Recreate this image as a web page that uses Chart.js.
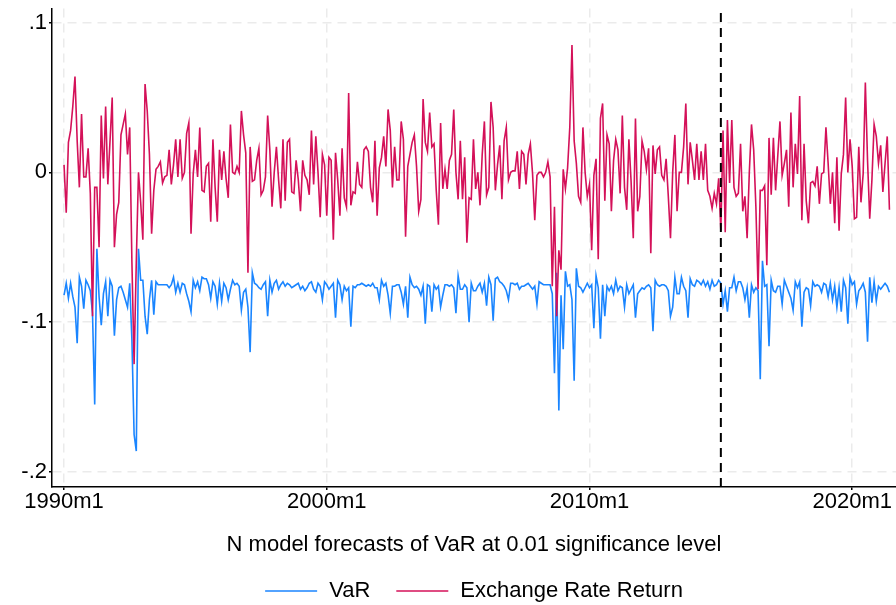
<!DOCTYPE html>
<html>
<head>
<meta charset="utf-8">
<script src="https://cdn.jsdelivr.net/npm/chart.js@4.4.1/dist/chart.umd.min.js"></script>
<style>
  body { margin: 0; background: #fff; }
  canvas { display: block; }
</style>
</head>
<body>
<canvas id="var_chart" width="896" height="605"></canvas>
<script>
// monthly series, first observation 1990m1
var startYear = 1990;
var tickYears = [1990, 2000, 2010, 2020];
var yTicks = [0.1, 0, -0.1, -0.2];
var forecastStart = '2015m1';
var xTitle = 'N model forecasts of VaR at 0.01 significance level';

var exchangeReturn = [
  0.005, -0.027, 0.020, 0.028, 0.044, 0.064, 0.021, -0.010, 0.039, -0.003, -0.003, 0.016, // 1990
  -0.014, -0.096, -0.010, -0.010, -0.050, 0.038, -0.004, 0.044, -0.008, 0.021, 0.050, -0.050,
  -0.028, -0.020, 0.025, 0.032, 0.039, 0.012, 0.030, -0.060, -0.128, -0.060, 0.000, -0.020,
  -0.045, 0.059, 0.041, 0.012, -0.041, -0.012, 0.002, 0.004, 0.007, -0.007, -0.003, -0.002,
  0.015, -0.008, 0.005, 0.022, -0.003, 0.022, -0.004, 0.000, 0.026, 0.033, -0.041, -0.001,
  0.015, -0.003, 0.030, -0.012, -0.013, 0.004, 0.006, -0.033, 0.022, -0.010, -0.033, 0.015, // 1995
  -0.005, 0.014, -0.004, -0.017, 0.032, 0.000, -0.001, 0.004, 0.000, 0.041, 0.025, 0.013,
  -0.067, 0.017, -0.006, -0.005, 0.008, 0.016, -0.015, -0.012, -0.003, 0.038, 0.015, -0.023,
  0.000, 0.017, -0.005, -0.024, 0.022, -0.019, 0.020, 0.022, -0.013, -0.014, 0.008, -0.005,
  -0.026, 0.008, -0.002, -0.005, -0.015, 0.028, -0.008, 0.024, 0.000, -0.030, 0.012, 0.005,
  -0.029, 0.010, 0.008, -0.045, 0.013, -0.005, -0.029, 0.016, -0.017, -0.023, 0.053, -0.022, // 2000
  -0.013, -0.014, 0.007, -0.008, -0.010, 0.015, 0.017, 0.014, -0.010, -0.020, 0.021, -0.029,
  0.003, 0.010, 0.024, 0.004, 0.042, 0.028, -0.010, 0.017, -0.005, -0.005, 0.034, 0.022,
  -0.043, 0.004, 0.012, 0.020, 0.025, 0.004, -0.026, -0.018, 0.049, 0.020, 0.014, 0.040,
  0.017, 0.019, -0.012, -0.035, 0.033, -0.011, 0.002, -0.011, 0.008, 0.012, 0.042, 0.000,
  -0.018, 0.021, -0.018, 0.010, -0.047, -0.017, -0.018, 0.022, -0.011, 0.000, -0.022, 0.012, // 2005
  0.034, -0.015, -0.010, 0.047, 0.030, -0.012, 0.005, 0.018, -0.018, 0.021, 0.030, -0.005,
  0.000, 0.001, 0.001, 0.014, -0.011, 0.014, 0.012, -0.008, 0.012, 0.019, -0.001, -0.032,
  -0.002, 0.000, 0.000, -0.003, 0.000, 0.007, -0.003, -0.076, -0.023, -0.096, -0.052, -0.065,
  0.002, -0.011, 0.003, 0.030, 0.085, 0.021, 0.006, -0.016, -0.020, 0.030, 0.000, -0.016,
  -0.008, -0.052, -0.002, 0.009, -0.058, 0.036, 0.046, -0.019, 0.025, 0.019, -0.026, 0.008, // 2010
  0.022, 0.015, -0.014, 0.038, -0.010, -0.025, 0.022, -0.006, -0.044, 0.036, -0.026, -0.016,
  0.021, 0.014, 0.002, 0.016, -0.054, 0.018, -0.001, 0.015, 0.017, -0.002, -0.005, 0.009,
  -0.016, -0.044, 0.000, 0.025, -0.026, 0.000, 0.000, 0.017, 0.046, -0.008, 0.020, 0.008,
  -0.005, 0.019, -0.005, 0.014, -0.005, 0.019, -0.012, -0.016, -0.024, -0.014, -0.021, -0.004,
  -0.039, 0.028, -0.040, 0.035, -0.007, 0.035, -0.010, -0.016, -0.014, 0.019, -0.026, -0.016, // 2015
  -0.044, 0.000, 0.032, 0.015, -0.023, -0.078, -0.012, -0.012, -0.009, -0.062, 0.023, -0.015,
  0.023, -0.012, 0.011, 0.034, -0.002, 0.006, 0.015, -0.023, 0.040, -0.010, 0.019, -0.001,
  0.051, -0.032, 0.019, -0.019, -0.034, -0.007, -0.006, -0.009, 0.004, -0.021, -0.001, 0.000,
  0.030, 0.006, -0.021, 0.000, -0.034, 0.010, -0.039, -0.001, 0.012, 0.050, 0.000, 0.022,
  0.004, -0.031, -0.030, 0.017, -0.020, -0.001, 0.060, 0.008, -0.031, -0.005, 0.032, 0.024, // 2020
  0.006, 0.018, -0.013, 0.006, 0.024, -0.025
];

var valueAtRisk = [
  -0.082, -0.074, -0.084, -0.074, -0.083, -0.090, -0.114, -0.070, -0.076, -0.091, -0.072, -0.075, // 1990
  -0.079, -0.094, -0.155, -0.051, -0.083, -0.102, -0.081, -0.073, -0.096, -0.072, -0.076, -0.109,
  -0.085, -0.077, -0.076, -0.080, -0.085, -0.090, -0.074, -0.112, -0.175, -0.186, -0.051, -0.072,
  -0.072, -0.096, -0.108, -0.085, -0.072, -0.095, -0.073, -0.075, -0.075, -0.075, -0.075, -0.075,
  -0.077, -0.075, -0.070, -0.080, -0.074, -0.080, -0.074, -0.075, -0.081, -0.086, -0.093, -0.072,
  -0.077, -0.073, -0.079, -0.070, -0.071, -0.071, -0.075, -0.084, -0.073, -0.076, -0.088, -0.074, // 1995
  -0.086, -0.074, -0.077, -0.085, -0.078, -0.072, -0.075, -0.074, -0.076, -0.092, -0.080, -0.078,
  -0.090, -0.120, -0.067, -0.074, -0.075, -0.077, -0.078, -0.075, -0.073, -0.096, -0.072, -0.080,
  -0.074, -0.072, -0.078, -0.075, -0.073, -0.076, -0.074, -0.075, -0.077, -0.076, -0.075, -0.074,
  -0.078, -0.076, -0.079, -0.077, -0.074, -0.073, -0.078, -0.080, -0.074, -0.076, -0.085, -0.073,
  -0.075, -0.078, -0.076, -0.074, -0.097, -0.072, -0.075, -0.085, -0.076, -0.079, -0.077, -0.103, // 2000
  -0.076, -0.077, -0.075, -0.075, -0.074, -0.075, -0.076, -0.075, -0.076, -0.074, -0.077, -0.077,
  -0.085, -0.072, -0.076, -0.074, -0.082, -0.094, -0.076, -0.076, -0.075, -0.075, -0.080, -0.088,
  -0.076, -0.097, -0.070, -0.075, -0.077, -0.076, -0.078, -0.082, -0.076, -0.101, -0.075, -0.076,
  -0.093, -0.075, -0.078, -0.076, -0.090, -0.082, -0.075, -0.075, -0.076, -0.075, -0.077, -0.094,
  -0.069, -0.078, -0.078, -0.075, -0.077, -0.100, -0.074, -0.079, -0.079, -0.076, -0.074, -0.080, // 2005
  -0.074, -0.089, -0.070, -0.075, -0.099, -0.071, -0.070, -0.073, -0.074, -0.076, -0.079, -0.085,
  -0.074, -0.074, -0.075, -0.074, -0.078, -0.076, -0.076, -0.075, -0.074, -0.076, -0.078, -0.076,
  -0.088, -0.073, -0.074, -0.075, -0.075, -0.075, -0.075, -0.081, -0.134, -0.067, -0.159, -0.082,
  -0.118, -0.066, -0.076, -0.075, -0.085, -0.139, -0.064, -0.076, -0.077, -0.080, -0.077, -0.074,
  -0.077, -0.075, -0.104, -0.069, -0.077, -0.111, -0.075, -0.096, -0.076, -0.079, -0.076, -0.081, // 2010
  -0.072, -0.079, -0.076, -0.077, -0.090, -0.075, -0.081, -0.078, -0.075, -0.097, -0.081, -0.079,
  -0.077, -0.078, -0.076, -0.075, -0.077, -0.106, -0.072, -0.075, -0.076, -0.075, -0.075, -0.076,
  -0.079, -0.096, -0.090, -0.070, -0.081, -0.081, -0.070, -0.076, -0.079, -0.097, -0.071, -0.075,
  -0.076, -0.072, -0.073, -0.075, -0.072, -0.076, -0.073, -0.078, -0.072, -0.076, -0.075, -0.072,
  -0.074, -0.088, -0.079, -0.093, -0.077, -0.077, -0.070, -0.079, -0.073, -0.073, -0.077, -0.085, // 2015
  -0.077, -0.097, -0.075, -0.080, -0.077, -0.079, -0.138, -0.059, -0.076, -0.075, -0.116, -0.072,
  -0.079, -0.080, -0.076, -0.076, -0.088, -0.072, -0.076, -0.080, -0.084, -0.092, -0.073, -0.077,
  -0.073, -0.103, -0.080, -0.077, -0.078, -0.089, -0.073, -0.076, -0.075, -0.076, -0.080, -0.074,
  -0.075, -0.083, -0.074, -0.085, -0.076, -0.090, -0.077, -0.093, -0.072, -0.077, -0.101, -0.070,
  -0.075, -0.073, -0.088, -0.079, -0.077, -0.074, -0.080, -0.113, -0.070, -0.087, -0.073, -0.086, // 2020
  -0.076, -0.078, -0.076, -0.074, -0.076, -0.080
];

var blue = '#1A85FF', red = '#D41159';
var fontFamily = '"Liberation Sans", Arial, Helvetica, sans-serif';
var yMin = -0.21, yMax = 0.1093;

// "2015m1" -> months since startYear m1
function monthIndex(s) {
    var parts = s.split('m');
    return (parseInt(parts[0]) - startYear) * 12 + parseInt(parts[1]) - 1;
}

function toPoints(series) {
    return series.map(function (v, i) { return {x: i, y: v}; });
}

function yLabel(v) {
    if (v === 0) return '0';
    return (v < 0 ? '-' : '') + String(Math.abs(v)).replace(/^0/, '');
}

// x axis title and the legend row underneath the plot
var bottomText = {
    id: 'bottomText',
    afterDraw: function (chart) {
        var ctx = chart.ctx, area = chart.chartArea;
        var cx = (area.left + area.right) / 2;
        ctx.save();
        ctx.font = '22px ' + fontFamily;
        ctx.fillStyle = '#000';
        ctx.textBaseline = 'middle';
        ctx.textAlign = 'center';
        ctx.fillText(xTitle, cx, 545);

        var items = [
            {label: chart.data.datasets[1].label, color: chart.data.datasets[1].borderColor},
            {label: chart.data.datasets[0].label, color: chart.data.datasets[0].borderColor}
        ];
        var lineLen = 52, gap = 12, itemGap = 26, total = 0;
        items.forEach(function (it, k) {
            it.w = ctx.measureText(it.label).width;
            total += lineLen + gap + it.w + (k > 0 ? itemGap : 0);
        });
        var x = cx - total / 2, y = 591;
        ctx.textAlign = 'left';
        items.forEach(function (it) {
            ctx.strokeStyle = it.color;
            ctx.lineWidth = 1.6;
            ctx.beginPath();
            ctx.moveTo(x, y);
            ctx.lineTo(x + lineLen, y);
            ctx.stroke();
            ctx.fillText(it.label, x + lineLen + gap, y);
            x += lineLen + gap + it.w + itemGap;
        });
        ctx.restore();
    }
};

Chart.defaults.font.family = fontFamily;
Chart.defaults.font.size = 22;
Chart.defaults.color = '#000';

var cutoff = monthIndex(forecastStart);

var varChart = new Chart(document.getElementById('var_chart').getContext('2d'), {
    type: 'line',
    data: {
        datasets: [{
            label: 'Exchange Rate Return',
            data: toPoints(exchangeReturn),
            borderColor: red,
            borderWidth: 1.6,
            pointRadius: 0,
            order: 1
        }, {
            label: 'VaR',
            data: toPoints(valueAtRisk),
            borderColor: blue,
            borderWidth: 1.6,
            pointRadius: 0,
            order: 2
        }, {
            label: 'forecast start',
            data: [{x: cutoff, y: yMin}, {x: cutoff, y: yMax}],
            borderColor: '#000',
            borderWidth: 2,
            borderDash: [9, 6],
            pointRadius: 0,
            order: 0
        }]
    },
    options: {
        responsive: false,
        animation: false,
        layout: {padding: {top: 8, right: 0, bottom: 0, left: 0}},
        plugins: {
            legend: {display: false},
            tooltip: {enabled: false}
        },
        scales: {
            x: {
                type: 'linear',
                min: -5.5,
                max: 380,
                afterBuildTicks: function (scale) {
                    scale.ticks = tickYears.map(function (yr) { return {value: (yr - startYear) * 12}; });
                },
                afterFit: function (scale) { scale.height = 118; },
                ticks: {
                    autoSkip: false,
                    maxRotation: 0,
                    padding: -1,
                    callback: function (v) { return (startYear + v / 12) + 'm1'; }
                },
                grid: {color: '#ebebeb', lineWidth: 1.5, tickColor: '#000', tickLength: 3, tickWidth: 1.5},
                border: {color: '#000', width: 1.5, dash: [9, 6]}
            },
            y: {
                min: yMin,
                max: yMax,
                afterBuildTicks: function (scale) {
                    scale.ticks = yTicks.map(function (v) { return {value: v}; });
                },
                afterFit: function (scale) { scale.width = 52; },
                ticks: {
                    padding: 2,
                    font: {lineHeight: 0.6},
                    callback: function (v) { return yLabel(v); }
                },
                grid: {color: '#ebebeb', lineWidth: 1.5, tickColor: '#000', tickLength: 3, tickWidth: 1.5},
                border: {color: '#000', width: 1.5, dash: [9, 6]}
            }
        }
    },
    plugins: [bottomText]
});
</script>
</body>
</html>
